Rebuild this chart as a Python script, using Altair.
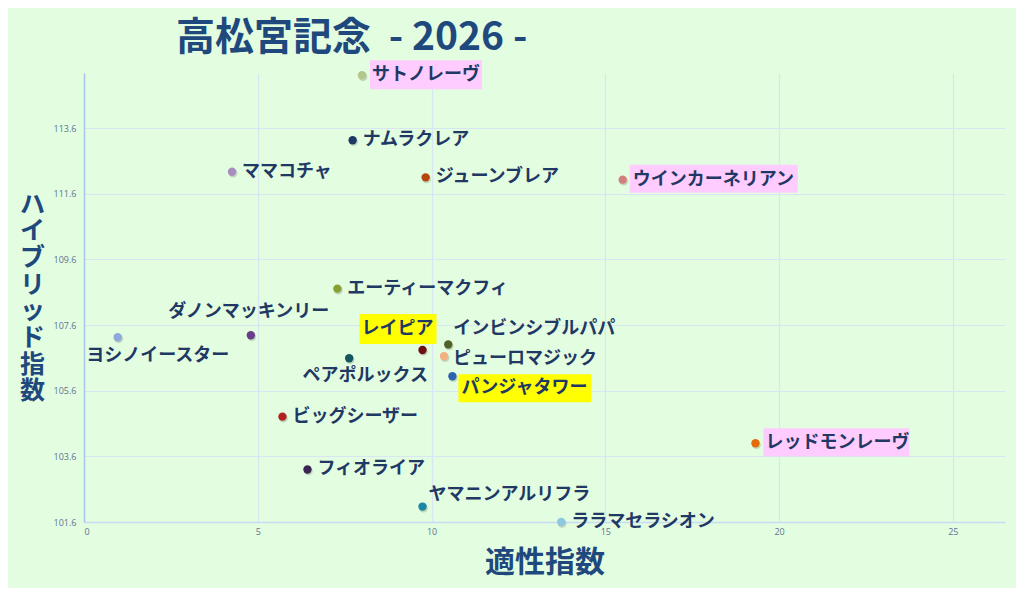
import altair as alt
import pandas as pd

# ---- data ----
names = ["サトノレーヴ", "ナムラクレア", "ママコチャ", "ジューンブレア", "ウインカーネリアン",
         "エーティーマクフィ", "ダノンマッキンリー", "ヨシノイースター", "ペアポルックス", "レイピア",
         "インビンシブルパパ", "ピューロマジック", "パンジャタワー", "ビッグシーザー", "レッドモンレーヴ",
         "フィオライア", "ヤマニンアルリフラ", "ララマセラシオン"]
tekisei = [8.0, 7.73, 4.26, 9.83, 15.5, 7.29, 4.80, 0.97, 7.63, 9.74,
           10.48, 10.36, 10.60, 5.71, 19.32, 6.43, 9.74, 13.73]
hybrid = [115.21, 113.23, 112.27, 112.1, 112.03, 108.71, 107.29, 107.23, 106.59, 106.84,
          107.01, 106.65, 106.04, 104.81, 104.0, 103.2, 102.07, 101.6]
x_ticks = [0, 5, 10, 15, 20, 25]
y_ticks = [101.6, 103.6, 105.6, 107.6, 109.6, 111.6, 113.6]

# ---- styling (not data) ----
point_colors = ["#B4C78A", "#1F3864", "#A98CC0", "#B5470C", "#D47F7F",
                "#86A032", "#6A3C8C", "#8EA9DB", "#15555F", "#6E0F14",
                "#4F6228", "#F4B183", "#2E64AF", "#B22222", "#E36C09",
                "#3A2450", "#1B87A6", "#8CC8E0"]
# label placement: (dx, dy, align)
placement = {
    "ダノンマッキンリー": (-2, -23, "center"),
    "ヨシノイースター": (40, 19, "center"),
    "ペアポルックス": (16, 18, "center"),
    "レイピア": (11, -21, "right"),
    "インビンシブルパパ": (5, -15, "left"),
    "ピューロマジック": (9, 3, "left"),
    "ヤマニンアルリフラ": (6, -12, "left"),
    "パンジャタワー": (9, 12, "left"),
}
# highlight boxes: name -> (colour, x0, x1, y0, y1) pixel offsets from the point
highlights = {
    "サトノレーヴ": ("#FFCCFF", 8, 120, -15, 14),
    "ウインカーネリアン": ("#FFCCFF", 7, 175, -15, 13),
    "レッドモンレーヴ": ("#FFCCFF", 8, 154, -15, 13),
    "レイピア": ("#FFFF00", -63, 14, -36, -6),
    "パンジャタワー": ("#FFFF00", 6, 139, -2, 26),
}

df = pd.DataFrame({"name": names, "x": tekisei, "y": hybrid})

FONT = "Noto Sans CJK JP"
NAVY = "#1F497D"
LABEL = "#1F3864"

xs = alt.Scale(domain=[0, 26.5], nice=False, zero=False)
ys = alt.Scale(domain=[101.6, 115.28], nice=False, zero=False)

base = alt.Chart(df)

x_enc = alt.X("x:Q", scale=xs, title="適性指数",
              axis=alt.Axis(values=x_ticks, format="d", grid=True, ticks=False,
                            domainColor="#C8DBF2", domainWidth=1.5,
                            gridColor="#D8E5F2", gridWidth=1.2,
                            labelFont="Open Sans", labelFontSize=9, labelColor="#5F7390",
                            labelPadding=5,
                            titleFont=FONT, titleFontSize=30, titleFontWeight="bold",
                            titleColor=NAVY, titleY=40, titleBaseline="middle"))
y_enc = alt.Y("y:Q", scale=ys, title=list("ハイブリッド指数"),
              axis=alt.Axis(values=y_ticks, format=".1f", grid=True, ticks=False,
                            domainColor="#A7C5EB", domainWidth=1.5,
                            gridColor="#D8E5F2", gridWidth=1.2,
                            labelFont="Open Sans", labelFontSize=9, labelColor="#5F7390",
                            labelPadding=8,
                            titleFont=FONT, titleFontSize=25, titleFontWeight="bold",
                            titleColor=NAVY, titleAngle=0, titleAlign="center",
                            titleBaseline="middle", titleLineHeight=26.7,
                            titleX=-52, titleY=131))

layers = []
# highlight boxes
for n, (col, x0, x1, y0, y1) in highlights.items():
    layers.append(
        base.transform_filter(alt.datum.name == n)
        .mark_rect(color=col, xOffset=x0, x2Offset=x1, yOffset=y0, y2Offset=y1)
        .encode(x=alt.X("x:Q", scale=xs), x2="x:Q", y=alt.Y("y:Q", scale=ys), y2="y:Q")
    )

points_shadow = base.mark_circle(size=75, color="#7F8F7F", opacity=0.35, xOffset=1, yOffset=1.5).encode(
    x=alt.X("x:Q", scale=xs), y=alt.Y("y:Q", scale=ys))
points = base.mark_circle(size=70, opacity=1).encode(
    x=x_enc, y=y_enc,
    color=alt.Color("name:N", scale=alt.Scale(domain=names, range=point_colors), legend=None))

layers = layers + [points_shadow, points]

for n in names:
    dx, dy, al = placement.get(n, (10, 0, "left"))
    layers.append(
        base.transform_filter(alt.datum.name == n)
        .mark_text(dx=dx, dy=dy, align=al, baseline="middle", font=FONT,
                   fontSize=18, fontWeight=600, color=LABEL)
        .encode(x=alt.X("x:Q", scale=xs), y=alt.Y("y:Q", scale=ys), text="name:N")
    )

chart = alt.layer(*layers).properties(
    width=921, height=449,
    autosize=alt.AutoSizeParams(type="none"),
    padding={"left": 76, "top": 65, "right": 11, "bottom": 66},
    background="#E3FDE1",
    title=alt.TitleParams(text="高松宮記念\u00a0\u00a0- 2026 -", anchor="start", frame="group", dx=92,
                          offset=2, font=FONT, fontSize=39, fontWeight="bold", color=NAVY),
).configure_view(stroke=None)

chart.save("out.html", embed_options={"renderer": "svg", "actions": False})
